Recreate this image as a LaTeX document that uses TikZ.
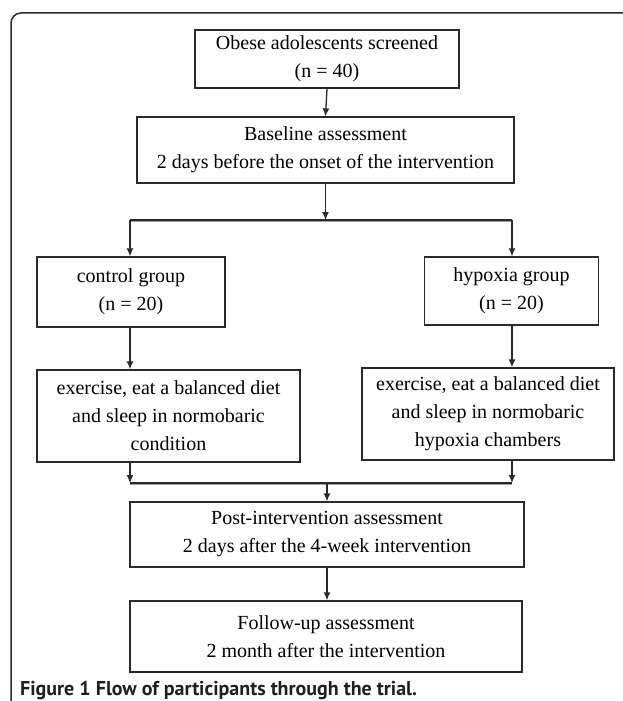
\documentclass[tikz,border=0pt]{standalone}
\usepackage{fontspec}
\setmainfont{Liberation Serif}
\newfontfamily\capfont{PT Sans}
\usetikzlibrary{arrows.meta}
\definecolor{linegray}{HTML}{2A2A2A}
\definecolor{shadowgray}{HTML}{A0A0A0}
\tikzset{
  box/.style={draw=linegray, line width=1.3pt, align=center, inner sep=0pt,
    font=\fontsize{20}{28}\selectfont, text=black},
  arr/.style={draw=linegray, line width=1.3pt, -{Latex[length=8pt,width=7pt]}},
  conn/.style={draw=linegray, line width=1.3pt},
  shadow/.style={draw=shadowgray, line width=1pt},
  frame/.style={draw=linegray, line width=1.5pt, rounded corners=10pt}
}
\begin{document}
\begin{tikzpicture}[x=1pt,y=-1pt]
\useasboundingbox (0,0) rectangle (622,701);
\draw[frame] (11,702) -- (11,13) -- (623,13);

\node[box, minimum width=264pt, minimum height=58pt] (b1) at (327,59)
  {Obese adolescents screened\\(n = 40)};
\node[box, minimum width=377pt, minimum height=66pt] (b2) at (325.5,150)
  {Baseline assessment\\2 days before the onset of the intervention};
\node[box, minimum width=188pt, minimum height=70pt] (cg) at (131,292)
  {control group\\(n = 20)};
\node[box, minimum width=174pt, minimum height=68pt] (hg) at (511.5,291)
  {hypoxia group\\(n = 20)};
\node[box, minimum width=263pt, minimum height=92pt] (ec) at (168.5,416)
  {exercise, eat a balanced diet\\and sleep in normobaric\\condition};
\node[box, minimum width=252pt, minimum height=92pt] (eh) at (488,414)
  {exercise, eat a balanced diet\\and sleep in normobaric\\hypoxia chambers};
\node[box, minimum width=394pt, minimum height=65pt] (post) at (327,534.5)
  {Post-intervention assessment\\2 days after the 4-week intervention};
\node[box, minimum width=392pt, minimum height=71pt] (fu) at (326,636.5)
  {Follow-up assessment\\2 month after the intervention};

\node[anchor=base west, inner sep=0pt, font=\capfont\bfseries\fontsize{20}{24}\selectfont, text=black!88] (cap) at (20,695)
  {Figure 1 Flow of participants through the trial.};

% split
\coordinate (sL) at (130,220);
\coordinate (sR) at (512,220);
\coordinate (sM) at (b2.south |- sL);
\draw[shadow] ([yshift=-1.7pt]sL) -- ([yshift=-1.7pt]sR);
\draw[conn] (sL) -- (sR);
\draw[arr] (b1.south) -- (b2.north);
\draw[arr] (b2.south) -- (sM);
\draw[arr] (sL) -- (sL |- cg.north);
\draw[arr] (sR) -- (sR |- hg.north);
\draw[arr] (sL |- cg.south) -- (sL |- ec.north);
\draw[arr] (sR |- hg.south) -- (sR |- eh.north);

% merge
\coordinate (mL) at (130,483);
\coordinate (mR) at (512,483);
\coordinate (mM) at (post.north |- mL);
\draw[shadow] ([yshift=-1.7pt]mL) -- ([yshift=-1.7pt]mR);
\draw[conn] (mL) -- (mR);
\draw[arr] (mL |- ec.south) -- (mL);
\draw[arr] (mR |- eh.south) -- (mR);
\draw[arr] (mM) -- (mM |- post.north);
\draw[arr] (post.south -| mM) -- (fu.north -| mM);
\end{tikzpicture}
\end{document}
